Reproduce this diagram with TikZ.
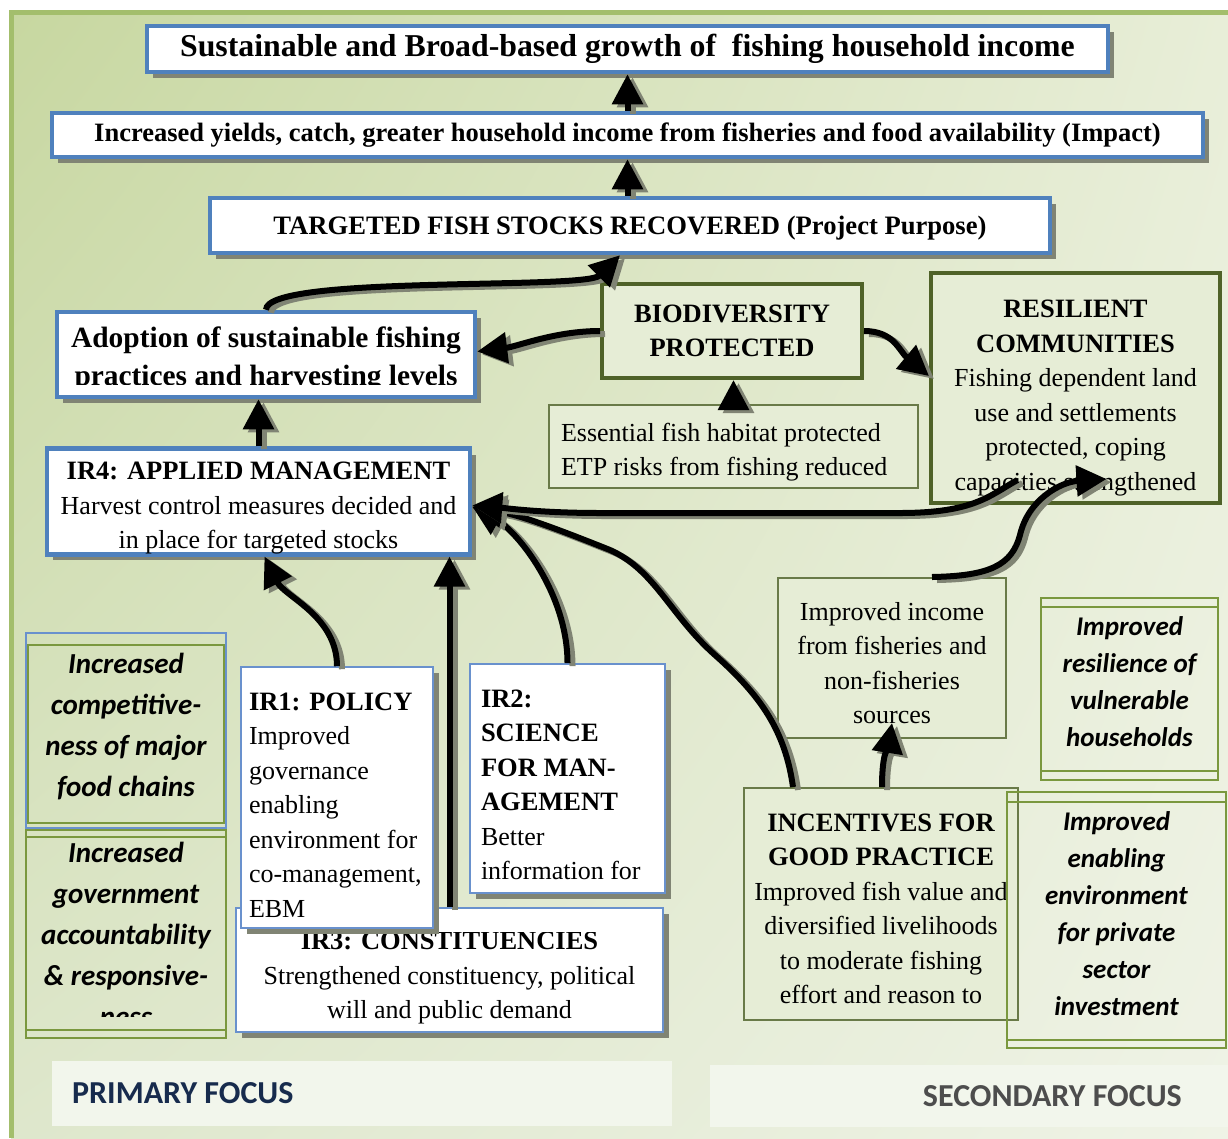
\documentclass[tikz,border=0pt]{standalone}
\usepackage{fontspec}
\setmainfont{Liberation Serif}
\newfontfamily\calibri{Carlito}
\usetikzlibrary{arrows.meta, calc, shadows, shadings}

\definecolor{boxblue}{RGB}{79,129,189}
\definecolor{thinblue}{RGB}{105,145,205}
\definecolor{darkolive}{RGB}{79,98,40}
\definecolor{midolive}{RGB}{122,152,62}
\definecolor{framegreen}{RGB}{163,190,108}
\definecolor{palegreen}{RGB}{230,237,214}
\definecolor{shadowgrey}{RGB}{128,132,116}
\definecolor{bgtl}{RGB}{199,215,160}
\definecolor{bgtr}{RGB}{232,238,216}
\definecolor{bgbl}{RGB}{222,231,204}
\definecolor{bgbr}{RGB}{239,243,230}
\definecolor{panelwhite}{RGB}{242,246,236}
\definecolor{navytext}{RGB}{23,43,77}
\definecolor{greytext}{RGB}{77,77,77}

\newcommand{\plainfont}{\fontsize{26}{34.5}\selectfont}
\newcommand{\hd}[1]{{\fontsize{26.5}{34.5}\selectfont\bfseries #1}}
\newcommand{\notefont}{\calibri\fontsize{27}{37}\selectfont\bfseries\itshape}
\newcommand{\bignote}{\calibri\fontsize{29}{41}\selectfont\bfseries\itshape}
% thick arrow with its grey shadow
\newcommand{\flowline}[1]{%
  \begin{scope}[transform canvas={shift={(5pt,-3pt)}}]\draw[flowshade] #1;\end{scope}
  \draw[flow] #1;}

\begin{document}
\begin{tikzpicture}[x=1pt, y=-1pt,
    bluebox/.style={draw=boxblue, line width=4.5pt, fill=white,
      drop shadow={shadow xshift=6pt, shadow yshift=-6pt, fill=shadowgrey, opacity=1}},
    thinbox/.style={draw=thinblue, line width=1.6pt, fill=white,
      drop shadow={shadow xshift=6pt, shadow yshift=-6pt, fill=shadowgrey, opacity=1}},
    greenbox/.style={draw=darkolive, line width=4pt, fill=palegreen},
    lightbox/.style={draw=darkolive!85, line width=2pt, fill=palegreen},
    twinbox/.style={draw=midolive, line width=2.5pt},
    flow/.style={line width=6pt, -{Triangle[length=30pt,width=30pt]}},
    flowshade/.style={flow, draw=shadowgrey},
    inner sep=0pt]
  \useasboundingbox (0,0) rectangle (1228,1138);

  % background and frame
  \fill[white] (0,0) rectangle (1228,1138);
  \shade[upper left=bgtl, upper right=bgtr, lower left=bgbl, lower right=bgbr]
    (11,12) rectangle (1228,1138);
  \draw[framegreen, line width=5pt] (1228,12) -- (11,12) -- (11,1138);

  % focus panels
  \fill[panelwhite] (52,1061) rectangle (672,1126);
  \fill[panelwhite] (710,1065) rectangle (1228,1127);
  \node[anchor=base west, text=navytext, font=\calibri\fontsize{32}{36}\selectfont\bfseries] (primary) at (72,1103) {PRIMARY FOCUS};
  \node[anchor=base east, text=greytext, font=\calibri\fontsize{32}{36}\selectfont\bfseries] (secondary) at (1182,1106) {SECONDARY FOCUS};

  % goal chain
  \node[bluebox, minimum width=961pt, minimum height=46pt, font=\fontsize{31.8}{36}\selectfont\bfseries] (goal) at (627.5,49)
    {Sustainable and Broad-based growth of\ \ fishing household income};
  \node[bluebox, minimum width=1151pt, minimum height=44pt, font=\fontsize{26.5}{30}\selectfont\bfseries] (impact) at (627.5,135)
    {Increased yields, catch, greater household income from fisheries and food availability (Impact)};
  \node[bluebox, minimum width=840pt, minimum height=55pt, font=\fontsize{26.6}{30}\selectfont\bfseries] (purpose) at (630,225.5)
    {\rule{0pt}{24pt}TARGETED FISH STOCKS RECOVERED (Project Purpose)};

  % adoption box, text cut at the bottom
  \node[bluebox, minimum width=418pt, minimum height=85pt] (adopt) at (266,354.5) {};
  \begin{scope}
    \clip (60,315) rectangle (472,384);
    \node[anchor=north, align=center, font=\fontsize{29.4}{38}\selectfont\bfseries] (adopttext) at (266,327)
      {Adoption of sustainable fishing\\practices and harvesting levels};
  \end{scope}

  \node[bluebox, minimum width=423pt, minimum height=103pt, align=center, font=\plainfont] (ir4) at (258.5,501.5)
    {\rule{0pt}{31pt}\hd{IR4: APPLIED MANAGEMENT}\\Harvest control measures decided and\\in place for targeted stocks};

  % green side
  \node[greenbox, minimum width=260pt, minimum height=94pt, align=center, font=\plainfont] (bio) at (732,331)
    {\hd{BIODIVERSITY}\\\hd{PROTECTED}};
  \node[lightbox, minimum width=369pt, minimum height=83pt, text width=345pt, align=flush left, font=\plainfont] (habitat) at (733.5,446.5)
    {\rule{0pt}{30pt}Essential fish habitat protected\\ETP risks from fishing reduced};
  \node[greenbox, minimum width=289pt, minimum height=230pt, align=center, font=\plainfont] (resil) at (1075.5,388)
    {\rule{0pt}{38pt}\hd{RESILIENT}\\\hd{COMMUNITIES}\\Fishing dependent land\\use and settlements\\protected, coping\\capacities strengthened};
  \node[lightbox, minimum width=228pt, minimum height=160pt, align=center, font=\plainfont] (income) at (892,658)
    {\rule{0pt}{28pt}Improved income\\from fisheries and\\non-fisheries\\sources};

  % double ruled boxes
  \draw[twinbox] (1041,598) rectangle (1218,780);
  \draw[twinbox] (1041,607) -- (1218,607) (1041,771) -- (1218,771);
  \node[align=center, font=\notefont] (vuln) at (1129.5,682)
    {Improved\\resilience of\\vulnerable\\households};

  \draw[thinblue, line width=1.5pt] (26,633) rectangle (226,828);
  \draw[twinbox] (28,645) rectangle (224,823);
  \node[align=center, font=\bignote] (compet) at (126,726)
    {Increased\\competitive-\\ness of major\\food chains};

  \draw[twinbox] (26,830) rectangle (226,1038);
  \draw[twinbox] (26,837) -- (226,837) (26,1030) -- (226,1030);
  \begin{scope}
    \clip (28,840) rectangle (224,1016);
    \node[anchor=north, align=center, font=\bignote] (govern) at (126,842)
      {Increased\\government\\accountability\\\& responsive-\\ness};
  \end{scope}

  % intermediate results
  \node[thinbox, minimum width=427pt, minimum height=124pt] (ir3) at (449.5,970) {};
  \begin{scope}
    \clip (238,932) rectangle (661,1030);
    \node[anchor=north, align=center, font=\plainfont] (ir3text) at (449.5,932)
      {\hd{IR3: CONSTITUENCIES}\\Strengthened constituency, political\\will and public demand};
  \end{scope}
  \node[thinbox, minimum width=192pt, minimum height=261pt, text width=176pt, align=flush left, font=\plainfont] (ir1) at (337,797.5)
    {\rule{0pt}{32.5pt}\hd{IR1: POLICY}\\Improved\\governance\\enabling\\environment for\\co-management,\\EBM};
  \node[thinbox, minimum width=195pt, minimum height=229pt, text width=173pt, align=flush left, font=\plainfont] (ir2) at (567.5,778.5)
    {\rule{0pt}{30.5pt}\hd{IR2:}\\\hd{SCIENCE}\\\hd{FOR MAN-}\\\hd{AGEMENT}\\Better\\information for};

  \node[lightbox, minimum width=274pt, minimum height=232pt, align=center, font=\plainfont] (incent) at (881,904)
    {\rule{0pt}{27pt}\hd{INCENTIVES FOR}\\\hd{GOOD PRACTICE}\\Improved fish value and\\diversified livelihoods\\to moderate fishing\\effort and reason to};

  \draw[twinbox] (1007,792) rectangle (1226,1048);
  \draw[twinbox] (1007,802) -- (1226,802) (1007,1040) -- (1226,1040);
  \node[align=center, font=\notefont] (enabl) at (1116.5,913.5)
    {Improved\\enabling\\environment\\for private\\sector\\investment};

  % connectors
  \flowline{(impact.north) -- (goal.south)}
  \flowline{(impact.south |- purpose.north) -- (impact.south)}
  \flowline{(adopt.north) .. controls +(0,-35) and +(-35,35) .. ([xshift=-10pt]purpose.south)}
  \flowline{(bio.west) .. controls +(-45,0) and +(40,-5) .. ([yshift=3pt]adopt.east)}
  \flowline{(bio.east) .. controls +(30,0) and +(-30,-25) .. ([yshift=12pt]resil.west)}
  \flowline{(habitat.north) -- (habitat.north |- bio.south)}
  \flowline{(ir4.north) -- (ir4.north |- adopt.south)}
  \flowline{(ir1.north) .. controls +(0,-50) and +(20,40) .. ([xshift=6pt]ir4.south)}
  \flowline{(ir3.north) -- (ir3.north |- ir4.south)}
  \flowline{(ir2.north) .. controls +(0,-70) and +(45,25) .. ([yshift=-5pt]ir4.east)}
  \flowline{([xshift=-88pt]incent.north) .. controls (785,730) and (760,695) .. (715,655)
    .. controls (670,615) and (655,570) .. (610,550)
    .. controls (560,530) and (520,515) .. ([yshift=-6pt]ir4.east)}
  \flowline{([xshift=-58pt,yshift=25pt]resil.south) .. controls (990,495) and (975,513) .. (900,513)
    -- (600,513) .. controls (540,513) and (505,508) .. ([yshift=-4pt]ir4.east)}
  \flowline{([xshift=40pt]income.north) .. controls (990,576) and (1012,565) .. (1020,535)
    .. controls (1028,500) and (1060,482) .. ([xshift=31pt,yshift=26pt]resil.south)}
  \flowline{([xshift=1pt]incent.north) .. controls +(0,-35) and +(-4,25) .. ([yshift=16pt]income.south)}
\end{tikzpicture}
\end{document}
